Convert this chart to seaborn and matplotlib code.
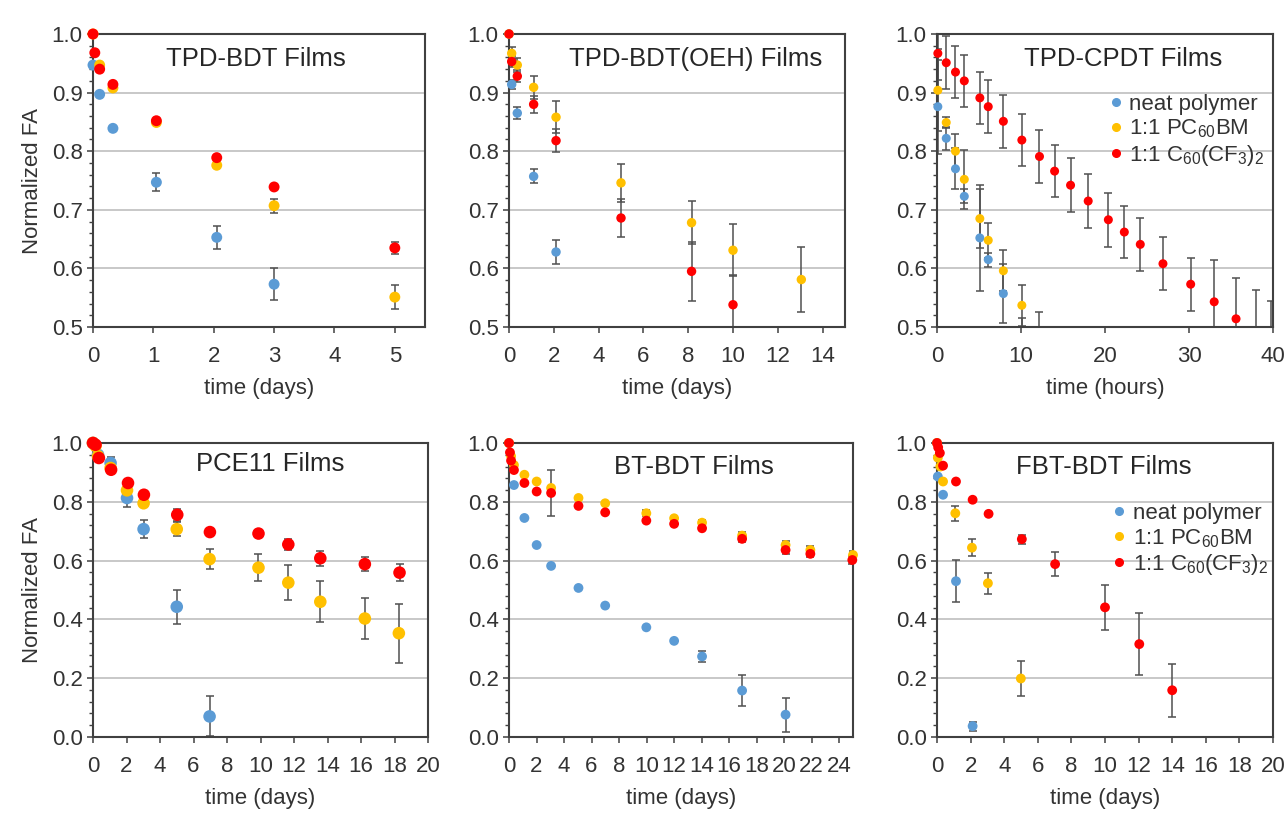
import numpy as np
import pandas as pd
import matplotlib
matplotlib.use('Agg')
import matplotlib.pyplot as plt
from matplotlib.lines import Line2D
from matplotlib.ticker import MultipleLocator, FormatStrFormatter
import seaborn as sns

LABELS = ['neat polymer', '1:1 PC$_{60}$BM', '1:1 C$_{60}$(CF$_3$)$_2$']
COLORS = ['#5B9BD5', '#FFC000', '#FF0000']

# TPD-BDT films (days)
tbdt_t_neat = [0, 0.11, 0.33, 1.05, 2.05, 3.0]
tbdt_neat = [0.947, 0.897, 0.839, 0.747, 0.653, 0.573]
tbdt_neat_err = [0.0, 0.0, 0.0, 0.015, 0.02, 0.027]
tbdt_t_pcbm = [0, 0.11, 0.33, 1.05, 2.05, 3.0, 5.0]
tbdt_pcbm = [1.0, 0.947, 0.908, 0.849, 0.776, 0.707, 0.551]
tbdt_pcbm_err = [0.0, 0.0, 0.0, 0.0, 0.0, 0.012, 0.02]
tbdt_t_cf3 = [0, 0.03, 0.11, 0.33, 1.05, 2.05, 3.0, 5.0]
tbdt_cf3 = [1.0, 0.968, 0.94, 0.914, 0.852, 0.789, 0.739, 0.635]
tbdt_cf3_err = [0.0, 0.0, 0.0, 0.0, 0.0, 0.0, 0.0, 0.01]

# TPD-BDT(OEH) films (days)
oeh_t_neat = [0, 0.12, 0.37, 1.1, 2.1]
oeh_neat = [1.0, 0.914, 0.865, 0.757, 0.628]
oeh_neat_err = [0.0, 0.008, 0.01, 0.012, 0.021]
oeh_t_pcbm = [0, 0.12, 0.37, 1.1, 2.1, 5.0, 8.15, 10.0, 13.05]
oeh_pcbm = [1.0, 0.967, 0.947, 0.909, 0.858, 0.746, 0.678, 0.631, 0.581]
oeh_pcbm_err = [0.0, 0.01, 0.012, 0.02, 0.027, 0.033, 0.037, 0.044, 0.055]
oeh_t_cf3 = [0, 0.12, 0.37, 1.1, 2.1, 5.0, 8.15, 10.0]
oeh_cf3 = [1.0, 0.953, 0.928, 0.88, 0.818, 0.686, 0.595, 0.538]
oeh_cf3_err = [0.0, 0.01, 0.01, 0.015, 0.02, 0.032, 0.05, 0.05]

# TPD-CPDT films (hours)
cpdt_t_neat = [0.1, 1.1, 2.2, 3.25, 5.1, 6.1, 7.9, 10.1, 12.2]
cpdt_neat = [0.876, 0.822, 0.77, 0.723, 0.652, 0.615, 0.557, 0.497, 0.48]
cpdt_neat_err = [0.08, 0.02, 0.035, 0.012, 0.09, 0.012, 0.05, 0.018, 0.045]
cpdt_t_pcbm = [0.1, 1.1, 2.2, 3.25, 5.1, 6.1, 7.9, 10.1]
cpdt_pcbm = [0.904, 0.849, 0.8, 0.752, 0.685, 0.648, 0.596, 0.537]
cpdt_pcbm_err = [0.07, 0.01, 0.03, 0.05, 0.05, 0.03, 0.035, 0.035]
cpdt_t_cf3 = [0.1, 1.1, 2.2, 3.25, 5.1, 6.1, 7.9, 10.1, 12.2, 14.0, 15.9,
              18.0, 20.4, 22.3, 24.2, 26.9, 30.2, 33.0, 35.6, 38.0, 39.8]
cpdt_cf3 = [0.967, 0.951, 0.935, 0.92, 0.891, 0.876, 0.851, 0.819, 0.791, 0.766, 0.742,
            0.715, 0.683, 0.662, 0.641, 0.608, 0.573, 0.543, 0.514, 0.49, 0.47]
cpdt_cf3_err = [0.045, 0.045, 0.045, 0.045, 0.045, 0.045, 0.045, 0.045, 0.045, 0.045, 0.046,
                0.046, 0.046, 0.044, 0.045, 0.045, 0.045, 0.071, 0.07, 0.073, 0.075]

# PCE11 films (days)
pce_t_neat = [0, 0.3, 1.05, 2.03, 3.02, 5.0, 6.96]
pce_neat = [1.0, 0.96, 0.932, 0.813, 0.707, 0.443, 0.07]
pce_neat_err = [0.0, 0.0, 0.02, 0.03, 0.03, 0.057, 0.068]
pce_t_pcbm = [0, 0.15, 0.3, 1.05, 2.03, 3.02, 5.0, 6.96, 9.88, 11.66, 13.57, 16.23, 18.26]
pce_pcbm = [1.0, 0.99, 0.955, 0.915, 0.839, 0.795, 0.707, 0.605, 0.576, 0.525, 0.46, 0.403, 0.353]
pce_pcbm_err = [0.0, 0.0, 0.0, 0.01, 0.01, 0.01, 0.025, 0.035, 0.047, 0.06, 0.07, 0.071, 0.1]
pce_t_cf3 = [0, 0.15, 0.35, 1.08, 2.09, 3.04, 5.03, 6.98, 9.88, 11.66, 13.57, 16.23, 18.3]
pce_cf3 = [1.0, 0.994, 0.949, 0.909, 0.864, 0.824, 0.756, 0.697, 0.692, 0.655, 0.608, 0.588, 0.559]
pce_cf3_err = [0.0, 0.0, 0.0, 0.0, 0.0, 0.0, 0.02, 0.0, 0.01, 0.02, 0.025, 0.025, 0.03]

# BT-BDT films (days)
bt_t_neat = [0, 0.36, 1.12, 2.01, 3.06, 5.05, 6.99, 9.98, 12.0, 14.03, 16.94, 20.1]
bt_neat = [1.0, 0.857, 0.745, 0.653, 0.582, 0.507, 0.447, 0.373, 0.327, 0.274, 0.158, 0.076]
bt_neat_err = [0.0, 0.0, 0.0, 0.0, 0.0, 0.0, 0.0, 0.0, 0.0, 0.02, 0.052, 0.058]
bt_t_pcbm = [0, 0.15, 0.36, 1.12, 2.01, 3.06, 5.05, 6.99, 9.98, 12.0, 14.03, 16.94, 20.1, 21.9, 25.0]
bt_pcbm = [1.0, 0.955, 0.925, 0.892, 0.869, 0.847, 0.813, 0.795, 0.761, 0.744, 0.729,
           0.685, 0.653, 0.636, 0.619]
bt_pcbm_err = [0.0, 0.0, 0.0, 0.0, 0.0, 0.0, 0.0, 0.0, 0.01, 0.0, 0.01, 0.012, 0.012, 0.012, 0.012]
bt_t_cf3 = [0, 0.07, 0.15, 0.36, 1.12, 2.01, 3.06, 5.05, 6.99, 9.98, 12.0, 14.03, 16.94, 20.1, 21.9, 24.95]
bt_cf3 = [1.0, 0.968, 0.94, 0.908, 0.864, 0.835, 0.83, 0.786, 0.764, 0.736, 0.725, 0.71,
          0.674, 0.636, 0.623, 0.602]
bt_cf3_err = [0.0, 0.0, 0.0, 0.0, 0.0, 0.0, 0.078, 0.0, 0.0, 0.0, 0.0, 0.0, 0.01, 0.015, 0.012, 0.015]

# FBT-BDT films (days)
fbt_t_neat = [0, 0.05, 0.36, 1.13, 2.12]
fbt_neat = [1.0, 0.886, 0.824, 0.53, 0.037]
fbt_neat_err = [0.0, 0.0, 0.0, 0.072, 0.015]
fbt_t_pcbm = [0, 0.05, 0.2, 0.36, 1.09, 2.08, 3.03, 4.99]
fbt_pcbm = [1.0, 0.95, 0.92, 0.869, 0.761, 0.644, 0.523, 0.199]
fbt_pcbm_err = [0.0, 0.0, 0.0, 0.0, 0.025, 0.03, 0.035, 0.058]
fbt_t_cf3 = [0, 0.07, 0.17, 0.36, 1.13, 2.12, 3.07, 5.05, 7.03, 10.0, 12.04, 14.0]
fbt_cf3 = [1.0, 0.985, 0.966, 0.923, 0.869, 0.807, 0.759, 0.673, 0.588, 0.441, 0.316, 0.159]
fbt_cf3_err = [0.0, 0.0, 0.0, 0.0, 0.0, 0.0, 0.0, 0.015, 0.04, 0.076, 0.106, 0.09]


def make_frame(series):
    parts = []
    for name, (t, fa, err) in zip(LABELS, series):
        parts.append(pd.DataFrame({'t': t, 'fa': fa, 'err': err, 'sample': name}))
    return pd.concat(parts, ignore_index=True)


def draw_panel(ax, df, title, title_pos, xlim, xstep, ylim, ystep, yminor, size,
               xlabel, ylabel=None, legend_pos=None):
    ax.set_xlim(*xlim)
    ax.set_ylim(*ylim)
    ax.grid(axis='y', color='#BFBFBF', lw=1.2, zorder=0)
    ax.grid(axis='x', visible=False)

    # error bars first, markers on top
    for name in LABELS:
        sub = df[(df['sample'] == name) & (df['err'] > 0)]
        ax.errorbar(sub['t'], sub['fa'], yerr=sub['err'], fmt='none', ecolor='#505050',
                    elinewidth=1.1, capsize=3, capthick=1.1, zorder=2)

    # like Excel, points outside the axis range are not drawn at all
    shown = df[(df['fa'] >= ylim[0]) & (df['fa'] <= ylim[1])]
    sns.scatterplot(data=shown, x='t', y='fa', hue='sample', hue_order=LABELS,
                    palette=COLORS, s=size, edgecolor='none', linewidth=0,
                    legend=False, ax=ax, zorder=3, clip_on=False)

    ax.xaxis.set_major_locator(MultipleLocator(xstep))
    ax.yaxis.set_major_locator(MultipleLocator(ystep))
    ax.yaxis.set_minor_locator(MultipleLocator(yminor))
    ax.yaxis.set_major_formatter(FormatStrFormatter('%.1f'))
    ax.tick_params(axis='x', which='major', direction='out', length=4.5, width=1.1,
                   color='#404040', labelsize=16, labelcolor='#333333', pad=9, bottom=True)
    ax.tick_params(axis='y', which='major', direction='out', length=4.5, width=1.1,
                   color='#404040', labelsize=16, labelcolor='#333333', pad=3, left=True)
    ax.tick_params(axis='y', which='minor', direction='out', length=3, width=1.0,
                   color='#404040', left=True)
    for sp in ax.spines.values():
        sp.set_color('#404040')
        sp.set_linewidth(1.5)
        sp.set_visible(True)

    ax.set_xlabel(xlabel, fontsize=16, color='#333333', labelpad=8)
    if ylabel:
        ax.set_ylabel(ylabel, fontsize=16, color='#333333', labelpad=6)
    else:
        ax.set_ylabel('')
    ax.text(title_pos[0], title_pos[1], title, transform=ax.transAxes, ha='center',
            va='center', fontsize=18.5, color='#262626')

    if legend_pos is not None:
        handles = [Line2D([], [], marker='o', ls='none', color=c, markersize=5.5)
                   for c in COLORS]
        leg = ax.legend(handles, LABELS, loc='upper left', bbox_to_anchor=legend_pos,
                        frameon=False, fontsize=16, handletextpad=0.1, labelspacing=0.12,
                        borderaxespad=0, handlelength=1.0, borderpad=0)
        for txt in leg.get_texts():
            txt.set_color('#333333')


sns.set_theme(style='white')
plt.rcParams['font.family'] = ['Liberation Sans', 'DejaVu Sans']
plt.rcParams['mathtext.fontset'] = 'custom'
plt.rcParams['mathtext.rm'] = 'Liberation Sans'
plt.rcParams['mathtext.it'] = 'Liberation Sans:italic'
plt.rcParams['mathtext.bf'] = 'Liberation Sans:bold'

W, H = 1285, 825
fig = plt.figure(figsize=(W / 100, H / 100), dpi=100)
fig.patch.set_facecolor('white')


def box(l, r, t, b):
    return [l / W, 1 - b / H, (r - l) / W, (b - t) / H]


ax1 = fig.add_axes(box(93, 425, 34, 327))
ax2 = fig.add_axes(box(509, 845, 34, 327))
ax3 = fig.add_axes(box(937, 1273, 34, 327))
ax4 = fig.add_axes(box(93, 428, 443, 737))
ax5 = fig.add_axes(box(509, 853, 443, 737))
ax6 = fig.add_axes(box(937, 1273, 443, 737))

df1 = make_frame([(tbdt_t_neat, tbdt_neat, tbdt_neat_err),
                  (tbdt_t_pcbm, tbdt_pcbm, tbdt_pcbm_err),
                  (tbdt_t_cf3, tbdt_cf3, tbdt_cf3_err)])
df2 = make_frame([(oeh_t_neat, oeh_neat, oeh_neat_err),
                  (oeh_t_pcbm, oeh_pcbm, oeh_pcbm_err),
                  (oeh_t_cf3, oeh_cf3, oeh_cf3_err)])
df3 = make_frame([(cpdt_t_neat, cpdt_neat, cpdt_neat_err),
                  (cpdt_t_pcbm, cpdt_pcbm, cpdt_pcbm_err),
                  (cpdt_t_cf3, cpdt_cf3, cpdt_cf3_err)])
df4 = make_frame([(pce_t_neat, pce_neat, pce_neat_err),
                  (pce_t_pcbm, pce_pcbm, pce_pcbm_err),
                  (pce_t_cf3, pce_cf3, pce_cf3_err)])
df5 = make_frame([(bt_t_neat, bt_neat, bt_neat_err),
                  (bt_t_pcbm, bt_pcbm, bt_pcbm_err),
                  (bt_t_cf3, bt_cf3, bt_cf3_err)])
df6 = make_frame([(fbt_t_neat, fbt_neat, fbt_neat_err),
                  (fbt_t_pcbm, fbt_pcbm, fbt_pcbm_err),
                  (fbt_t_cf3, fbt_cf3, fbt_cf3_err)])

draw_panel(ax1, df1, 'TPD-BDT Films', (0.49, 0.915), (0, 5.5), 1, (0.5, 1.0), 0.1, 0.02, 62,
           'time (days)', ylabel='Normalized FA')
draw_panel(ax2, df2, 'TPD-BDT(OEH) Films', (0.555, 0.915), (0, 15), 2, (0.5, 1.0), 0.1, 0.02, 46,
           'time (days)')
draw_panel(ax3, df3, 'TPD-CPDT Films', (0.555, 0.915), (0, 40), 10, (0.5, 1.0), 0.1, 0.02, 42,
           'time (hours)', legend_pos=(0.5, 0.795))
draw_panel(ax4, df4, 'PCE11 Films', (0.528, 0.93), (0, 20), 2, (0.0, 1.0), 0.2, 0.04, 82,
           'time (days)', ylabel='Normalized FA')
draw_panel(ax5, df5, 'BT-BDT Films', (0.538, 0.918), (0, 25), 2, (0.0, 1.0), 0.2, 0.04, 50,
           'time (days)')
draw_panel(ax6, df6, 'FBT-BDT Films', (0.495, 0.918), (0, 20), 2, (0.0, 1.0), 0.2, 0.04, 50,
           'time (days)', legend_pos=(0.51, 0.795))

fig.savefig('out.png', dpi=100, facecolor='white')
